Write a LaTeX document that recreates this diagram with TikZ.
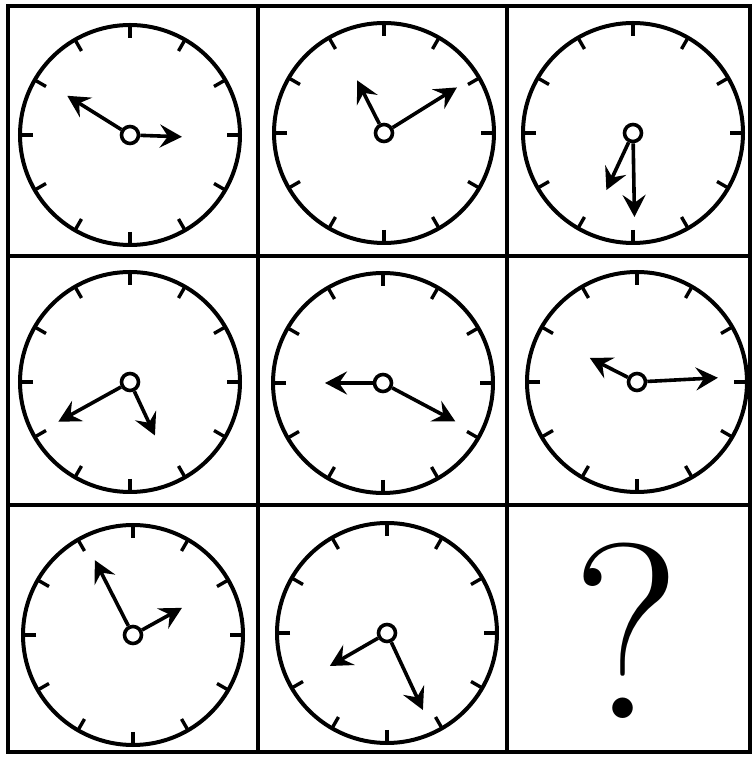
\documentclass[tikz,border=0pt]{standalone}
\usetikzlibrary{arrows.meta}

\begin{document}
\begin{tikzpicture}[
    x=1pt, y=1pt,
    frame/.style={line width=3.6pt},
    face/.style={draw, circle, line width=4pt, minimum size=220pt, inner sep=0pt},
    hub/.style={draw, circle, line width=3.6pt, fill=white, minimum size=17pt, inner sep=0pt},
    hourtick/.style={line width=3.4pt},
    hand/.style={line width=3.6pt, -{Stealth[length=22pt, width=23pt, inset=8pt]}}
]
\useasboundingbox (0,0) rectangle (754,758);

% grid
\draw[frame] (8,6) rectangle (750,752);
\draw[frame] (258,6) -- (258,752);
\draw[frame] (507,6) -- (507,752);
\draw[frame] (8,253) -- (750,253);
\draw[frame] (8,502) -- (750,502);

% clocks: number / centre / long hand / short hand
\foreach \n/\x/\y/\la/\ll/\sa/\sl in {
    1/130/623/148/74/-2/52,
    2/384/625/32/86/117/59,
    3/633/625/-89/84/245/63,
    4/130/376/209/82/-65/59,
    5/383/375/-28/82/180/58,
    6/637/376/3/81/153/53,
    7/133/123/117/84/29/56,
    8/387/125/-65/85/210/66}
{
    \node[face] (face\n) at (\x,\y) {};
    \foreach \a in {0,30,...,330}
        \draw[hourtick] ([shift={(\a:97)}]face\n.center) -- ([shift={(\a:110)}]face\n.center);
    \node[hub] (hub\n) at (face\n.center) {};
    \coordinate (long\n) at ([shift={(\la:\ll)}]hub\n.center);
    \coordinate (short\n) at ([shift={(\sa:\sl)}]hub\n.center);
    \draw[hand] (hub\n) -- (long\n);
    \draw[hand] (hub\n) -- (short\n);
}

\node[font=\fontsize{250}{250}\selectfont, inner sep=0pt] (query) at (627,127) {?};

\end{tikzpicture}
\end{document}
